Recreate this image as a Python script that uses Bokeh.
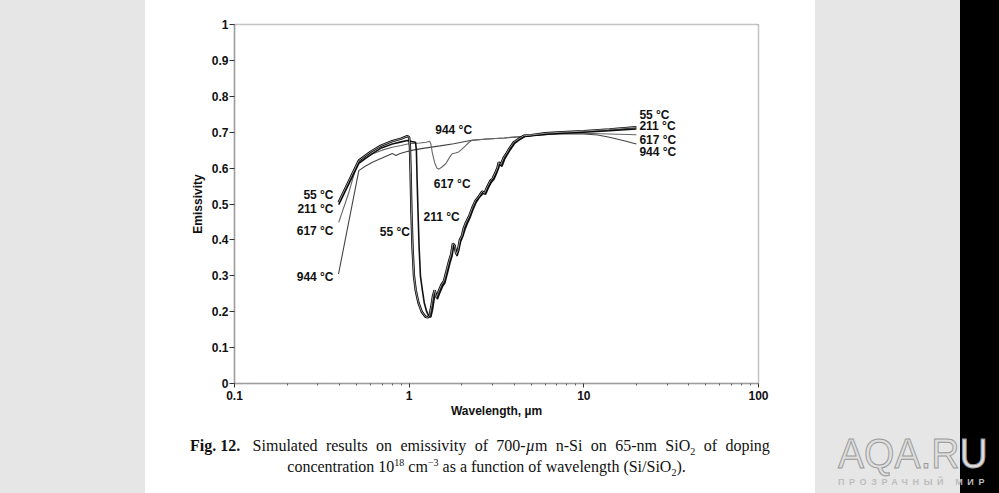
from bokeh.plotting import figure
from bokeh.models import FixedTicker, CustomJSTickFormatter, Div
from bokeh.layouts import row, column
from bokeh.core.properties import value
from bokeh.embed import file_html
from bokeh.resources import INLINE

# ---------------- data ----------------
wl_55 = [0.395, 0.515, 0.60, 0.686, 0.80, 0.90, 0.975, 1.0, 1.01, 1.02, 1.03, 1.045, 1.065, 1.09, 1.13,
         1.18, 1.24, 1.28, 1.31, 1.34, 1.37, 1.40, 1.43, 1.47, 1.53, 1.58, 1.64, 1.69, 1.74, 1.78, 1.82,
         1.86, 1.90, 1.95, 2.0, 2.06, 2.12, 2.2, 2.3, 2.4, 2.5, 2.56, 2.62, 2.7, 2.8, 2.92, 3.0, 3.1,
         3.2, 3.26, 3.35, 3.48, 3.6, 3.75, 3.97, 4.2, 4.53, 5.0, 6.0, 7.5, 10, 14, 20]
em_55 = [0.505, 0.621, 0.645, 0.662, 0.675, 0.682, 0.689, 0.686, 0.66, 0.58, 0.48, 0.38, 0.30, 0.26, 0.225,
         0.20, 0.186, 0.184, 0.19, 0.215, 0.245, 0.26, 0.24, 0.255, 0.275, 0.285, 0.315, 0.34, 0.36, 0.39, 0.385,
         0.36, 0.37, 0.40, 0.41, 0.435, 0.45, 0.465, 0.49, 0.51, 0.52, 0.528, 0.535, 0.53, 0.548, 0.565, 0.57, 0.585,
         0.60, 0.616, 0.61, 0.63, 0.64, 0.655, 0.672, 0.68, 0.69, 0.692, 0.697, 0.70, 0.703, 0.708, 0.714]

wl_211 = [0.395, 0.515, 0.60, 0.686, 0.80, 0.90, 0.975, 1.03, 1.087, 1.10, 1.11, 1.125, 1.14, 1.16, 1.19,
          1.22, 1.26, 1.30, 1.33, 1.36, 1.39, 1.42, 1.45, 1.49, 1.55, 1.60, 1.66, 1.71, 1.76, 1.80, 1.84,
          1.88, 1.92, 1.97, 2.03, 2.09, 2.15, 2.22, 2.32, 2.42, 2.52, 2.6, 2.66, 2.74, 2.84, 2.95, 3.05,
          3.15, 3.24, 3.3, 3.4, 3.52, 3.65, 3.8, 4.0, 4.25, 4.6, 5.0, 6.0, 7.5, 10, 14, 20]
em_211 = [0.498, 0.613, 0.637, 0.655, 0.667, 0.673, 0.677, 0.674, 0.672, 0.65, 0.57, 0.47, 0.38, 0.30, 0.26,
          0.225, 0.20, 0.186, 0.185, 0.205, 0.235, 0.25, 0.235, 0.25, 0.27, 0.28, 0.31, 0.335, 0.355, 0.385, 0.375,
          0.355, 0.37, 0.395, 0.41, 0.43, 0.445, 0.46, 0.485, 0.505, 0.518, 0.525, 0.53, 0.527, 0.545, 0.56, 0.568,
          0.583, 0.598, 0.61, 0.605, 0.625, 0.638, 0.652, 0.668, 0.678, 0.688, 0.69, 0.694, 0.697, 0.70, 0.704, 0.709]

wl_617 = [0.395, 0.45, 0.503, 0.55, 0.62, 0.70, 0.80, 0.90, 0.98, 1.05, 1.15, 1.25, 1.31, 1.33, 1.36,
          1.40, 1.44, 1.48, 1.54, 1.62, 1.68, 1.76, 1.84, 1.92, 2.0, 2.1, 2.2, 2.3, 2.8, 3.5, 4.5, 5.5,
          7.0, 10, 14, 20]
em_617 = [0.449, 0.53, 0.612, 0.625, 0.64, 0.65, 0.658, 0.663, 0.667, 0.669, 0.670, 0.672, 0.675, 0.668, 0.64,
          0.615, 0.60, 0.597, 0.603, 0.612, 0.625, 0.64, 0.642, 0.645, 0.652, 0.662, 0.672, 0.678, 0.681, 0.684, 0.688, 0.692,
          0.696, 0.697, 0.695, 0.693]

wl_944 = [0.394, 0.515, 0.56, 0.62, 0.70, 0.76, 0.80, 0.84, 0.88, 0.95, 1.05, 1.2, 1.5, 1.8, 2.24, 2.8,
          3.5, 4.5, 5.5, 7.0, 10, 12, 14, 17, 20]
em_944 = [0.305, 0.593, 0.605, 0.617, 0.628, 0.636, 0.641, 0.635, 0.640, 0.645, 0.650, 0.655, 0.662, 0.668, 0.677, 0.681,
          0.684, 0.688, 0.692, 0.695, 0.695, 0.692, 0.686, 0.676, 0.667]

temps = ["55 °C", "211 °C", "617 °C", "944 °C"]

x_ticks = [0.1, 1, 10, 100]
x_tick_labels = ["0.1", "1", "10", "100"]
y_ticks = [0, 0.1, 0.2, 0.3, 0.4, 0.5, 0.6, 0.7, 0.8, 0.9, 1.0]
y_tick_labels = ["0", "0.1", "0.2", "0.3", "0.4", "0.5", "0.6", "0.7", "0.8", "0.9", "1"]

# label anchors (data coords)
left_lab_x = [0.369, 0.369, 0.369, 0.369]
left_lab_y = [0.526, 0.487, 0.426, 0.296]
dip_lab_text = ["211 °C", "617 °C", "944 °C"]
dip_lab_x = [1.208, 1.383, 1.41]
dip_lab_y = [0.463, 0.556, 0.705]
dip55_x = [1.01]
dip55_y = [0.421]
right_lab_x = [20.8, 20.8, 20.8, 20.8]
right_lab_y = [0.749, 0.716, 0.679, 0.644]

FONT = "Liberation Sans"

p = figure(width=670, height=428, x_axis_type="log", x_range=(0.1, 100), y_range=(0, 1),
           output_backend="svg", toolbar_location=None,
           min_border_left=89, min_border_right=57, min_border_top=24, min_border_bottom=45)
p.xgrid.visible = False
p.ygrid.visible = False
p.background_fill_color = "white"
p.border_fill_color = "white"
p.outline_line_color = "#8a8a8a"
p.outline_line_width = 1.5
p.outline_line_dash = "1 1"

# axes
p.xaxis.ticker = FixedTicker(ticks=x_ticks,
                             minor_ticks=[m * 10.0 ** e for e in (-1, 0, 1) for m in range(2, 10)])
p.xaxis.formatter = CustomJSTickFormatter(args=dict(vals=x_ticks, labels=x_tick_labels),
    code="const i = vals.findIndex(v => Math.abs(Math.log10(v) - Math.log10(tick)) < 1e-6); return i >= 0 ? labels[i] : '';")
p.yaxis.ticker = FixedTicker(ticks=y_ticks)
p.yaxis.formatter = CustomJSTickFormatter(args=dict(vals=y_ticks, labels=y_tick_labels),
    code="const i = vals.findIndex(v => Math.abs(v - tick) < 1e-6); return i >= 0 ? labels[i] : '';")

for ax in (p.xaxis[0], p.yaxis[0]):
    ax.axis_line_color = "#777777"
    ax.axis_line_width = 1.5
    ax.axis_line_dash = "1 1"
    ax.major_tick_line_color = "#333333"
    ax.minor_tick_line_color = "#666666"
    ax.major_tick_in = 0
    ax.minor_tick_in = 0
    ax.major_label_text_font = FONT
    ax.major_label_text_font_style = "bold"
    ax.major_label_text_font_size = "12px"
    ax.major_label_text_color = "#111111"
    ax.axis_label_text_font = FONT
    ax.axis_label_text_font_style = "bold"
    ax.axis_label_text_font_size = "12px"
    ax.axis_label_text_color = "#111111"

p.xaxis.axis_label = "Wavelength, µm"
p.yaxis.axis_label = "Emissivity"
p.xaxis.major_tick_out = 4
p.xaxis.minor_tick_out = 2
p.xaxis.major_label_standoff = 3
p.xaxis.axis_label_standoff = 1
p.yaxis.major_tick_out = 5
p.yaxis.minor_tick_out = 0
p.yaxis.major_label_standoff = 1
p.yaxis.axis_label_standoff = 4

# curves
p.line(wl_944, em_944, line_color="#444444", line_width=1.1)
p.line(wl_617, em_617, line_color="#666666", line_width=1.1)
p.line(wl_211, em_211, line_color="#111111", line_width=1.6)
p.line(wl_55, em_55, line_color="#000000", line_width=2.4)
p.line(wl_55, em_55, line_color="#bbbbbb", line_width=0.8)

lab_kw = dict(text_font=value(FONT), text_font_style="bold", text_font_size="12px",
              text_color="#111111", text_baseline="middle")
p.text(x=left_lab_x, y=left_lab_y, text=temps, text_align="right", **lab_kw)
p.text(x=right_lab_x, y=right_lab_y, text=temps, text_align="left", **lab_kw)
p.text(x=dip_lab_x, y=dip_lab_y, text=dip_lab_text, text_align="left", **lab_kw)
p.text(x=dip55_x, y=dip55_y, text=[temps[0]], text_align="right", **lab_kw)

SUB = '<sub style="font-size:10px;line-height:0">'
SUP = '<sup style="font-size:10px;line-height:0">'
caption_html = (
    '<div style="width:670px;height:65px;background:#ffffff;box-sizing:border-box;'
    'padding:7px 45px 0 45px;font-family:\'Liberation Serif\',serif;font-size:16px;line-height:21px;color:#111">'
    '<div style="white-space:nowrap;display:flex;justify-content:space-between">'
    '<span><b>Fig. 12.</b></span><span>&nbsp;Simulated</span><span>results</span><span>on</span><span>emissivity</span>'
    '<span>of</span><span>700-<i>µ</i>m</span><span>n-Si</span><span>on</span><span>65-nm</span>'
    '<span>SiO' + SUB + '2</sub></span><span>of</span><span>doping</span></div>'
    '<div style="text-align:center;padding-left:13px;white-space:nowrap">concentration 10' + SUP + '18</sup>'
    ' cm' + SUP + '&minus;3</sup> as a function of wavelength (Si/SiO' + SUB + '2</sub>).</div>'
    '</div>'
)
caption = Div(text=caption_html, width=670, height=65, margin=0)

left_div = Div(text='<div style="width:145px;height:493px;background:#e6e6e6"></div>',
               width=145, height=493, margin=0)
right_html = (
    '<div style="position:relative;width:184px;height:493px;background:#e6e6e6;overflow:hidden">'
    '<div style="position:absolute;left:145px;top:0;width:39px;height:493px;background:#000"></div>'
    '<div style="position:absolute;left:23px;top:433px;'
    'font-family:\'Liberation Sans\',sans-serif;font-size:42px;line-height:42px;color:#dedede;'
    '-webkit-text-stroke:1px #9a9a9a;white-space:nowrap;'
    'transform:scaleX(0.93);transform-origin:left top">AQA.RU</div>'
    '<div style="position:absolute;left:23px;top:478px;font-family:\'Liberation Sans\',sans-serif;'
    'font-size:9px;line-height:9px;color:#bdbdbd;letter-spacing:4.6px;white-space:nowrap;font-weight:bold">ПРОЗРАЧНЫЙ МИР</div>'
    '</div>'
)
right_div = Div(text=right_html, width=184, height=493, margin=0)

layout = row(left_div, column(p, caption, spacing=0), right_div, spacing=0)

open("out.html", "w").write(file_html(layout, INLINE))
